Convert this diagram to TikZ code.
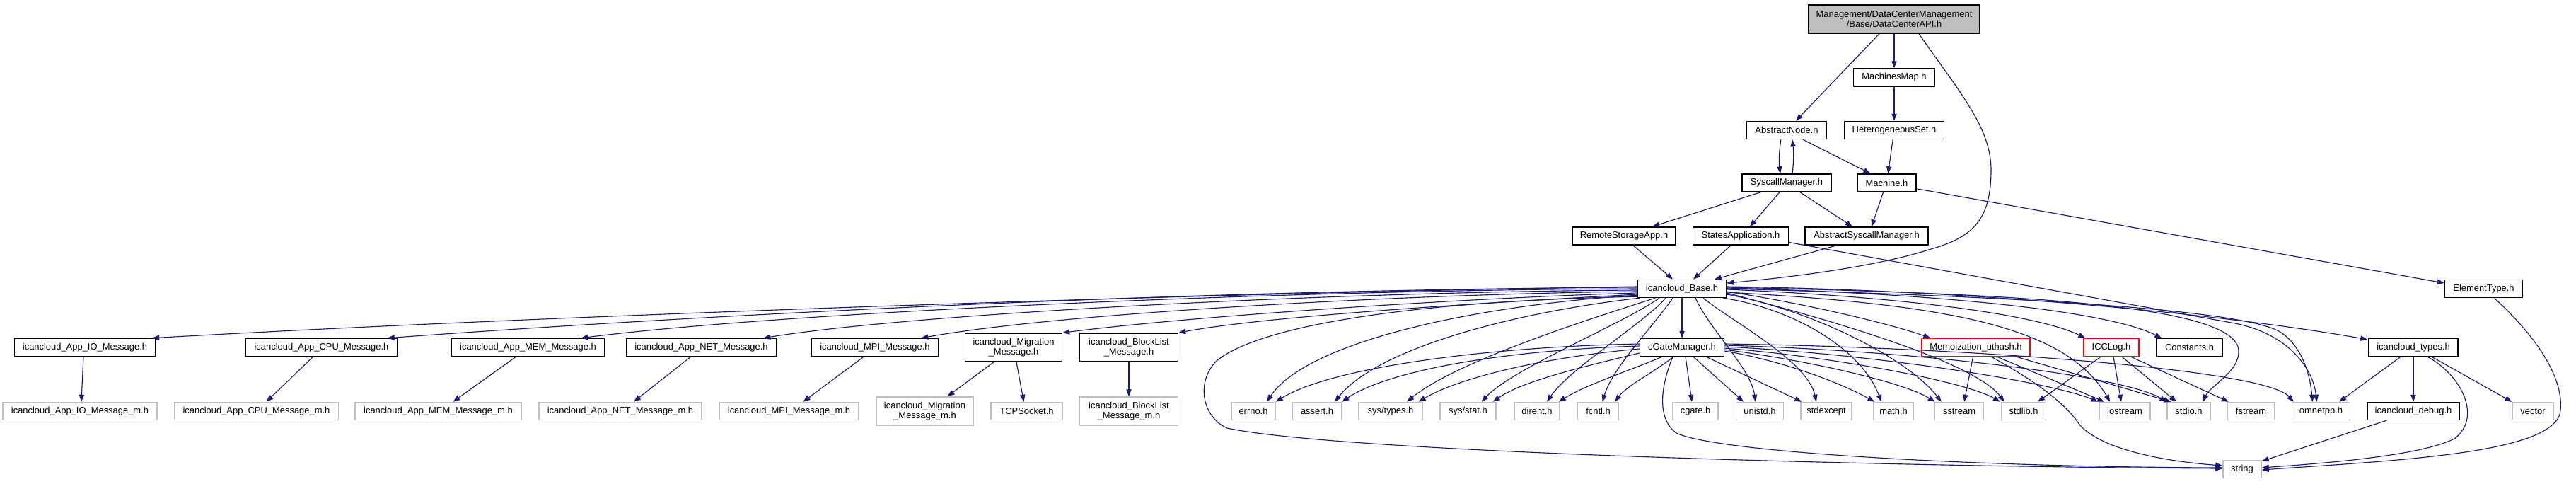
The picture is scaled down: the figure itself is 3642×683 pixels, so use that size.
\documentclass[tikz,border=0pt]{standalone}
\usepackage{fontspec}
\newfontfamily\nodefont{Liberation Sans}
\usetikzlibrary{arrows.meta,calc}
\definecolor{edgec}{HTML}{191970}
\definecolor{graybd}{HTML}{BFBFBF}
\definecolor{rootfill}{HTML}{BFBFBF}
\tikzset{
  nb/.style={draw=black, line width=1.1pt, fill=white, inner sep=0pt,
    minimum height=25*0.75pt, align=center,
    font=\nodefont\fontsize{9.7}{10.5}\selectfont},
  gb/.style={nb, draw=graybd},
  rb/.style={nb, draw=red},
  bw/.style={minimum width=#1*0.75pt},
  tall/.style={minimum height=40*0.75pt},
  dep/.style={draw=edgec, line width=0.85pt, -{Triangle[length=7.5pt,width=5.5pt]}},
}
\begin{document}
\begin{tikzpicture}[x=0.75pt,y=-0.75pt]
\useasboundingbox (0,0) rectangle (3642,683);
% ---- nodes
\node[nb, bw=242, tall, fill=rootfill] (root) at (2678,27) {Management/DataCenterManagement\\/Base/DataCenterAPI.h};
\node[nb, bw=115] (mmap) at (2678,109.5) {MachinesMap.h};
\node[nb, bw=113] (absnode) at (2526,184) {AbstractNode.h};
\node[nb, bw=141] (hset) at (2678,184) {HeterogeneousSet.h};
\node[nb, bw=126] (syscall) at (2526,258.5) {SyscallManager.h};
\node[nb, bw=83] (machine) at (2667.5,258.5) {Machine.h};
\node[nb, bw=146] (remote) at (2296,333.5) {RemoteStorageApp.h};
\node[nb, bw=135] (states) at (2461,333.5) {StatesApplication.h};
\node[nb, bw=174] (abssys) at (2639,333.5) {AbstractSyscallManager.h};
\node[nb, bw=125] (base) at (2378,408) {icancloud\_Base.h};
\node[nb, bw=110] (elem) at (3511.5,408) {ElementType.h};
\node[nb, bw=199] (appio) at (120,491) {icancloud\_App\_IO\_Message.h};
\node[nb, bw=215] (appcpu) at (454.5,491) {icancloud\_App\_CPU\_Message.h};
\node[nb, bw=216] (appmem) at (746.5,491) {icancloud\_App\_MEM\_Message.h};
\node[nb, bw=212] (appnet) at (991.5,491) {icancloud\_App\_NET\_Message.h};
\node[nb, bw=179] (mpi) at (1237,491) {icancloud\_MPI\_Message.h};
\node[nb, bw=137, tall] (migr) at (1433,491) {icancloud\_Migration\\\_Message.h};
\node[nb, bw=139, tall] (blist) at (1596,491) {icancloud\_BlockList\\\_Message.h};
\node[nb, bw=119] (cgm) at (2378,491) {cGateManager.h};
\node[rb, bw=153] (memo) at (2793.5,491) {Memoization\_uthash.h};
\node[rb, bw=78] (icclog) at (2985,491) {ICCLog.h};
\node[nb, bw=93] (consts) at (3095.5,491) {Constants.h};
\node[nb, bw=126] (types) at (3412,491) {icancloud\_types.h};
\node[gb, bw=218] (appiom) at (113,581) {icancloud\_App\_IO\_Message\_m.h};
\node[gb, bw=232] (appcpum) at (362.5,581) {icancloud\_App\_CPU\_Message\_m.h};
\node[gb, bw=235] (appmemm) at (619.5,581) {icancloud\_App\_MEM\_Message\_m.h};
\node[gb, bw=230] (appnetm) at (877,581) {icancloud\_App\_NET\_Message\_m.h};
\node[gb, bw=197] (mpim) at (1115.5,581) {icancloud\_MPI\_Message\_m.h};
\node[gb, bw=137, tall] (migrm) at (1307.5,581) {icancloud\_Migration\\\_Message\_m.h};
\node[gb, bw=101] (tcp) at (1451.5,581) {TCPSocket.h};
\node[gb, bw=139, tall] (blistm) at (1596,581) {icancloud\_BlockList\\\_Message\_m.h};
\node[gb, bw=62] (errno) at (1772,581) {errno.h};
\node[gb, bw=69] (assert) at (1862,581) {assert.h};
\node[gb, bw=90] (systypes) at (1966,581) {sys/types.h};
\node[gb, bw=79] (sysstat) at (2075.5,581) {sys/stat.h};
\node[gb, bw=64] (dirent) at (2173,581) {dirent.h};
\node[gb, bw=58] (fcntl) at (2259.5,581) {fcntl.h};
\node[gb, bw=64] (cgate) at (2397,581) {cgate.h};
\node[gb, bw=67] (unistd) at (2488,581) {unistd.h};
\node[gb, bw=72] (stdexcept) at (2582,581) {stdexcept};
\node[gb, bw=56] (math) at (2677,581) {math.h};
\node[gb, bw=69] (sstream) at (2770,581) {sstream};
\node[gb, bw=63] (stdlib) at (2861,581) {stdlib.h};
\node[gb, bw=72] (iostream) at (3004,581) {iostream};
\node[gb, bw=61] (stdio) at (3094.5,581) {stdio.h};
\node[gb, bw=66] (fstream) at (3182.5,581) {fstream};
\node[gb, bw=82] (omnetpp) at (3281.5,581) {omnetpp.h};
\node[nb, bw=130] (debug) at (3412,581) {icancloud\_debug.h};
\node[gb, bw=58] (vector) at (3581,581) {vector};
\node[gb, bw=54] (string) at (3170,663) {string};
% ---- top edges
\draw[dep] ($(root.south)+(-21,0)$) -- ($(absnode.north)+(13,0)$);
\draw[dep] (root) -- (mmap);
\draw[dep] ($(root.south)+(35,0)$) .. controls (2770,130) and (2815,180) .. (2815,240)
  .. controls (2815,310) and (2790,335) .. (2730,352)
  .. controls (2650,378) and (2520,393) .. ($(base.east)+(0,-8)$);
\draw[dep] (mmap) -- (hset);
\draw[dep] (hset) -- (machine);
\draw[dep] ($(absnode.south)+(-8,0)$) .. controls (2515,215) and (2515,230) .. ($(syscall.north)+(-9,0)$);
\draw[dep] ($(syscall.north)+(8,0)$) .. controls (2536,230) and (2536,215) .. ($(absnode.south)+(8,0)$);
\draw[dep] ($(absnode.south)+(23,0)$) -- ($(machine.north)+(-23,0)$);
\draw[dep] ($(syscall.south)+(-37,0)$) -- ($(remote.north)+(40,0)$);
\draw[dep] ($(syscall.south)+(-10,0)$) -- ($(states.north)+(13,0)$);
\draw[dep] ($(syscall.south)+(19,0)$) -- ($(abssys.north)+(-20,0)$);
\draw[dep] ($(machine.south)+(-5,0)$) -- ($(abssys.north)+(7,0)$);
\draw[dep] ($(machine.south east)+(0,-5)$) -- ($(elem.west)+(0,-8)$);
\draw[dep] ($(remote.south)+(13,0)$) -- ($(base.north)+(-13,0)$);
\draw[dep] ($(states.south)+(-14,0)$) -- ($(base.north)+(16,0)$);
\draw[dep] ($(abssys.south)+(-42,0)$) -- ($(base.north east)+(-17.5,0)$);
\draw[dep] ($(states.east)+(0,9)$) -- (3160,457) .. controls (3235,472) and (3270,520) .. ($(omnetpp.north)+(-6,0)$);
% ---- icancloud_Base left fan
\draw[dep] ($(base.west)+(0,-3)$) .. controls (1600,416) and (700,450) .. ($(appio.north east)+(-5,0)$);
\draw[dep] ($(base.west)+(0,-2)$) .. controls (1600,410) and (900,452) .. ($(appcpu.north east)+(-15,0)$);
\draw[dep] ($(base.west)+(0,0)$) .. controls (1800,410) and (1100,442) .. ($(appmem.north east)+(-34,0)$);
\draw[dep] ($(base.west)+(0,2)$) .. controls (1900,412) and (1300,442) .. ($(appnet.north east)+(-19,0)$);
\draw[dep] ($(base.west)+(0,4)$) .. controls (2000,415) and (1500,442) .. ($(mpi.north east)+(-25,0)$);
\draw[dep] ($(base.west)+(0,6)$) .. controls (2100,420) and (1700,445) .. (migr.north east);
\draw[dep] ($(base.west)+(0,8)$) .. controls (2150,425) and (1800,445) .. (blist.north east);
\draw[dep] ($(base.south west)+(0,-2)$) .. controls (2000,425) and (1780,460) .. (1720,510)
  .. controls (1690,540) and (1700,590) .. (1735,605)
  .. controls (1900,640) and (2700,660) .. ($(string.west)+(0,-1)$);
\draw[dep] ($(base.south west)+(0,-4)$) .. controls (2100,430) and (1850,480) .. ($(errno.north)+(19,0)$);
\draw[dep] ($(base.south west)+(3,0)$) .. controls (2150,440) and (1950,490) .. ($(assert.north)+(25,0)$);
\draw[dep] ($(base.south)+(-38,0)$) .. controls (2250,450) and (2060,510) .. ($(systypes.north)+(23,0)$);
\draw[dep] ($(base.south)+(-32,0)$) .. controls (2290,460) and (2140,520) .. ($(sysstat.north)+(19,0)$);
\draw[dep] ($(base.south)+(-23,0)$) .. controls (2320,460) and (2220,520) .. ($(dirent.north)+(14,0)$);
\draw[dep] ($(base.south)+(-13,0)$) .. controls (2330,470) and (2280,520) .. ($(fcntl.north)+(6,0)$);
\draw[dep] (base) -- (cgm);
% ---- icancloud_Base right fan
\draw[dep] ($(base.south)+(19,0)$) .. controls (2420,470) and (2475,520) .. ($(unistd.north)+(-6,0)$);
\draw[dep] ($(base.south)+(30,0)$) .. controls (2450,455) and (2555,510) .. ($(stdexcept.north)+(-14,0)$);
\draw[dep] ($(base.south east)+(-5,0)$) .. controls (2530,435) and (2630,490) .. ($(math.north)+(-17,0)$);
\draw[dep] ($(base.east)+(0,8)$) .. controls (2570,440) and (2700,510) .. ($(sstream.north west)+(10,0)$);
\draw[dep] ($(base.east)+(0,6)$) .. controls (2580,450) and (2790,510) .. ($(stdlib.north west)+(5,0)$);
\draw[dep] ($(base.east)+(0,5)$) .. controls (2750,430) and (2920,460) .. ($(iostream.north west)+(16,0)$);
\draw[dep] ($(base.east)+(0,4)$) .. controls (2560,430) and (2680,460) .. ($(memo.north west)+(13,0)$);
\draw[dep] ($(base.east)+(0,1)$) .. controls (2700,420) and (2880,445) .. ($(icclog.north west)+(3,0)$);
\draw[dep] ($(base.east)+(0,-1)$) .. controls (2750,415) and (2980,440) .. ($(consts.north west)+(8,0)$);
\draw[dep] ($(base.east)+(0,-3)$) .. controls (2800,410) and (3150,445) .. ($(types.north west)+(-1,2)$);
\draw[dep] ($(base.east)+(0,-2)$) .. controls (2850,415) and (3160,430) .. (3165,495)
  .. controls (3167,525) and (3125,545) .. ($(stdio.north)+(20,0)$);
\draw[dep] ($(base.east)+(0,0)$) .. controls (2900,420) and (3180,440) .. (3225,470)
  .. controls (3255,490) and (3266,530) .. ($(omnetpp.north)+(-12,0)$);
% ---- cGateManager
\draw[dep] ($(cgm.west)+(0,-5)$) .. controls (2100,490) and (1880,520) .. (errno.north east);
\draw[dep] ($(cgm.west)+(0,-2)$) .. controls (2120,495) and (1960,525) .. (assert.north east);
\draw[dep] ($(cgm.west)+(0,2)$) .. controls (2180,505) and (2060,535) .. ($(systypes.north east)+(-6,0)$);
\draw[dep] ($(cgm.west)+(0,8)$) .. controls (2230,520) and (2150,540) .. ($(sysstat.north east)+(-5,0)$);
\draw[dep] ($(cgm.south)+(-28,0)$) .. controls (2300,525) and (2240,545) .. ($(dirent.north east)+(-2,0)$);
\draw[dep] ($(cgm.south)+(-12,0)$) .. controls (2340,525) and (2300,545) .. ($(fcntl.north east)+(-6,0)$);
\draw[dep] ($(cgm.south)+(5,0)$) -- ($(cgate.north)+(-5,0)$);
\draw[dep] ($(cgm.south)+(16,0)$) -- ($(unistd.north)+(-23,0)$);
\draw[dep] ($(cgm.south east)+(-26,0)$) -- ($(stdexcept.north west)+(2,0)$);
\draw[dep] ($(cgm.east)+(0,5)$) .. controls (2520,510) and (2600,540) .. ($(math.north west)+(2,0)$);
\draw[dep] ($(cgm.east)+(0,3)$) .. controls (2560,510) and (2690,540) .. ($(sstream.north west)+(1,0)$);
\draw[dep] ($(cgm.east)+(0,1)$) .. controls (2600,505) and (2780,540) .. ($(stdlib.north west)+(-1,0)$);
\draw[dep] ($(cgm.east)+(0,-1)$) .. controls (2650,500) and (2900,540) .. ($(iostream.north west)+(-1,0)$);
\draw[dep] ($(cgm.east)+(0,-3)$) .. controls (2700,495) and (3000,530) .. (stdio.north west);
\draw[dep] ($(cgm.east)+(0,-5)$) .. controls (2750,490) and (3200,520) .. ($(omnetpp.north west)+(3,0)$);
\draw[dep] ($(cgm.south)+(-13,0)$) .. controls (2350,540) and (2340,590) .. (2370,612)
  .. controls (2430,640) and (2800,660) .. ($(string.west)+(0,-2)$);
% ---- Memoization, ICCLog, types, debug, ElementType
\draw[dep] ($(memo.south)+(-4,0)$) -- ($(sstream.north)+(7,0)$);
\draw[dep] ($(memo.south)+(22,0)$) .. controls (2880,540) and (2920,570) .. (2940,600)
  .. controls (2970,635) and (3060,652) .. ($(string.west)+(0,-5)$);
\draw[dep] ($(memo.south)+(30,0)$) -- ($(iostream.north west)+(8,0)$);
\draw[dep] ($(memo.south east)+(-20,0)$) -- ($(stdio.north west)+(6,0)$);
\draw[dep] ($(icclog.south)+(-15,0)$) -- ($(stdlib.north)+(20,0)$);
\draw[dep] ($(icclog.south)+(3,0)$) -- ($(iostream.north)+(-5,0)$);
\draw[dep] ($(icclog.south)+(15,0)$) -- ($(stdio.north west)+(14,0)$);
\draw[dep] ($(icclog.south east)+(-12,0)$) -- ($(fstream.north west)+(2,0)$);
\draw[dep] ($(types.south)+(-18,0)$) -- ($(omnetpp.north east)+(-16,0)$);
\draw[dep] (types) -- (debug);
\draw[dep] ($(types.south)+(20,0)$) .. controls (3480,530) and (3510,590) .. (3470,620)
  .. controls (3420,645) and (3280,655) .. ($(string.east)+(0,-2)$);
\draw[dep] ($(types.south)+(26,0)$) -- (vector.north west);
\draw[dep] ($(debug.south)+(-38,0)$) -- ($(string.north east)+(0,2)$);
\draw[dep] ($(elem.south)+(15,0)$) .. controls (3580,470) and (3625,530) .. (3620,580)
  .. controls (3615,640) and (3400,650) .. ($(string.east)+(0,1)$);
% ---- message headers
\draw[dep] ($(appio.south)+(-2,0)$) -- ($(appiom.north)+(2,0)$);
\draw[dep] ($(appcpu.south)+(-12,0)$) -- ($(appcpum.north)+(14,0)$);
\draw[dep] ($(appmem.south)+(-17,0)$) -- ($(appmemm.north)+(21,0)$);
\draw[dep] ($(appnet.south)+(-15,0)$) -- ($(appnetm.north)+(19,0)$);
\draw[dep] ($(mpi.south)+(-16,0)$) -- ($(mpim.north)+(20,0)$);
\draw[dep] ($(migr.south)+(-28,0)$) -- ($(migrm.north)+(32,0)$);
\draw[dep] ($(migr.south)+(4,0)$) -- ($(tcp.north)+(-4,0)$);
\draw[dep] (blist) -- (blistm);
\end{tikzpicture}
\end{document}
